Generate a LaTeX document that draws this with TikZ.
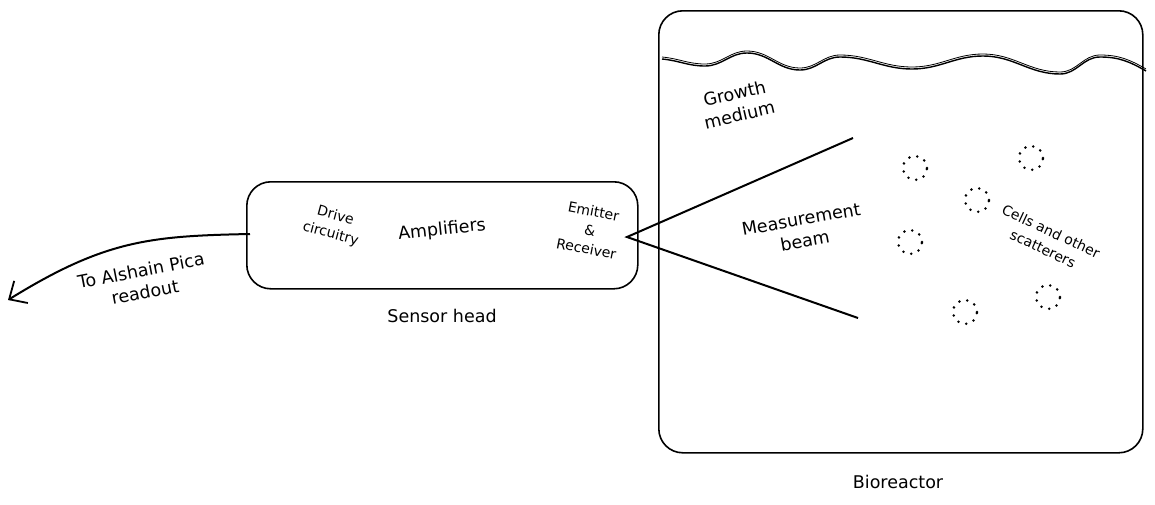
\documentclass[tikz,border=0pt]{standalone}
\usepackage{fontspec}
\setmainfont{DejaVu Sans}
\usetikzlibrary{arrows.meta}
\begin{document}
\begin{tikzpicture}[x=1pt,y=-1pt,
  box/.style={draw, line width=1.6pt, rounded corners=24pt},
  lbl/.style={font=\fontsize{17.5}{22}\selectfont, align=center, inner sep=0pt},
  slbl/.style={font=\fontsize{14}{19}\selectfont, align=center, inner sep=0pt},
  beamline/.style={line width=2pt},
  cell/.style={draw, line width=2.8pt, line cap=round, dash pattern=on 0pt off 8.2pt, circle, minimum size=24pt, inner sep=0pt}]
\useasboundingbox (0,0) rectangle (1155,504);
% sensor head
\node[box, minimum width=391pt, minimum height=107pt, anchor=north west] (head) at (246,181) {};
\node[slbl, rotate=-15] (drive) at (333,225) {Drive\\circuitry};
\node[lbl, rotate=6] (amp) at (442,230) {Amplifiers};
\node[slbl, rotate=-11] (emit) at (590,230) {Emitter\\\&\\Receiver};
\node[lbl] (headlbl) at (442,316) {Sensor head};
\coordinate (out) at (250,234);
\coordinate (dest) at (8,300);
\draw[line width=2pt, -{Straight Barb[length=14pt,width=26pt,line width=1.8pt]}] (out) .. controls (150,236) and (105,240) .. (dest);
\node[lbl, rotate=11] (readout) at (143,281) {To Alshain Pica\\readout};
% bioreactor
\node[box, minimum width=484pt, minimum height=442pt, anchor=north west] (bio) at (658,10) {};
\node[lbl] (biolbl) at (898,482) {Bioreactor};
\draw[line width=1.4pt] (662,59) to[out=-5,in=180] (705,66) to[out=0,in=180] (747,53) to[out=0,in=180] (800,70) to[out=0,in=180] (840,57) to[out=0,in=180] (912,69) to[out=0,in=180] (983,56) to[out=0,in=180] (1060,74) to[out=0,in=180] (1100,57) to[out=0,in=150] (1146,71);
\draw[line width=0.8pt] (662,57) to[out=-5,in=180] (705,64) to[out=0,in=180] (747,51) to[out=0,in=180] (800,68) to[out=0,in=180] (840,55) to[out=0,in=180] (912,67) to[out=0,in=180] (983,54) to[out=0,in=180] (1060,72) to[out=0,in=180] (1100,55) to[out=0,in=150] (1146,69);
\node[lbl, rotate=13] (medium) at (737,104) {Growth\\medium};
% beam
\coordinate (src) at (627,237);
\coordinate (btop) at (853,138);
\coordinate (bbot) at (858,318);
\draw[beamline] (btop) -- (src) -- (bbot);
\node[lbl, rotate=10] (beam) at (803,230) {Measurement\\beam};
% cells
\node[cell] (c1) at (915,168) {};
\node[cell] (c2) at (1031,158) {};
\node[cell] (c3) at (977,200) {};
\node[cell] (c4) at (910,242) {};
\node[cell] (c5) at (965,312) {};
\node[cell] (c6) at (1048,297) {};
\node[slbl, rotate=-25] (cells) at (1047,240) {Cells and other\\scatterers};
\end{tikzpicture}
\end{document}
